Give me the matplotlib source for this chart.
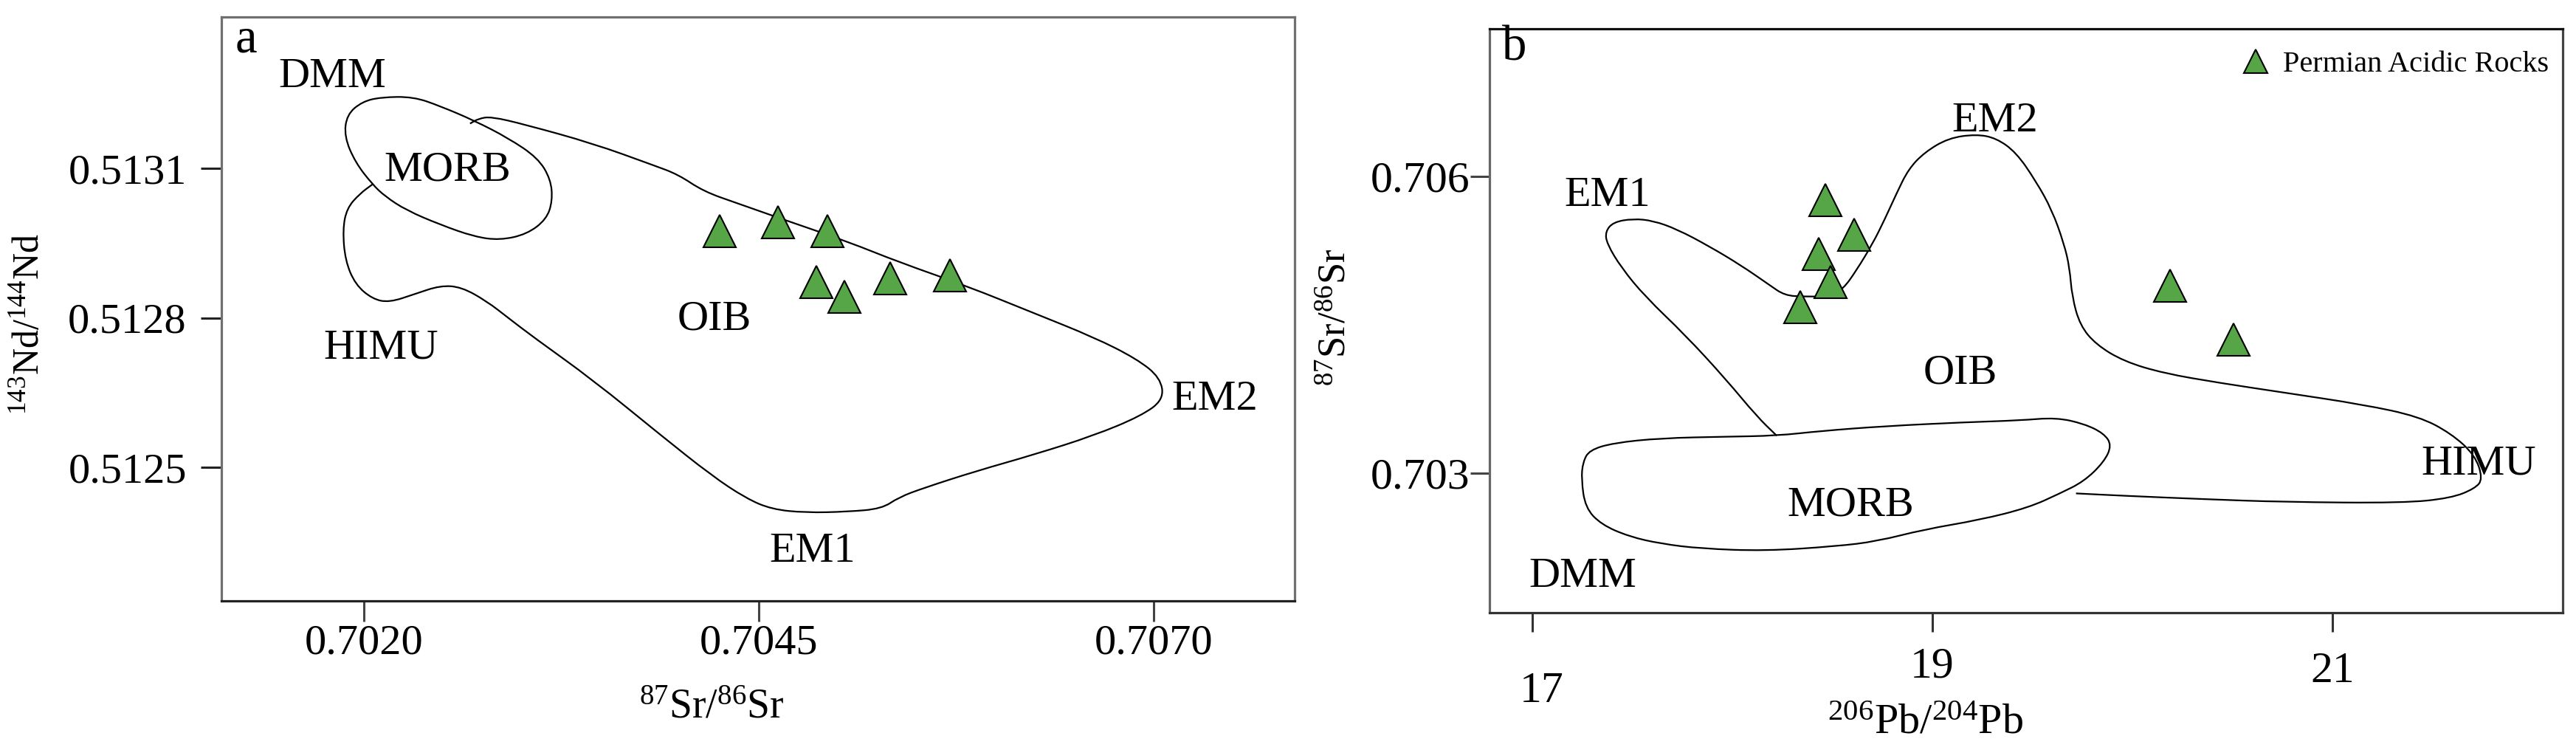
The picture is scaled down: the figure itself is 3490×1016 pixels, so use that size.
import numpy as np
import matplotlib
matplotlib.use("Agg")
import matplotlib.pyplot as plt
from matplotlib.lines import Line2D
from matplotlib.path import Path
from matplotlib.patches import PathPatch
from matplotlib.transforms import ScaledTranslation

plt.rcParams['font.family'] = ['Liberation Serif', 'DejaVu Serif']
plt.rcParams['mathtext.fontset'] = 'custom'
plt.rcParams['mathtext.rm'] = 'Liberation Serif'
plt.rcParams['mathtext.default'] = 'rm'

GREEN = '#56a546'

# ---------------- panel a : 87Sr/86Sr vs 143Nd/144Nd ----------------
a_sr = [0.704253, 0.704624, 0.704935, 0.704866, 0.705043, 0.705333, 0.705710]
a_nd = [0.512974, 0.512992, 0.512974, 0.512872, 0.512842, 0.512879, 0.512886]

# MORB field (closed)
a_morb_x = [0.702054, 0.701946, 0.701876, 0.701892, 0.701989, 0.702108, 0.702312,
            0.702484, 0.702699, 0.702914, 0.703102, 0.703183, 0.703194, 0.703156,
            0.703032, 0.702860, 0.702699, 0.702484, 0.702269, 0.702134, 0.702054]
a_morb_y = [0.513068, 0.513112, 0.513164, 0.513208, 0.513234, 0.513243, 0.513244,
            0.513225, 0.513196, 0.513161, 0.513121, 0.513078, 0.513035, 0.512998,
            0.512968, 0.512956, 0.512963, 0.512987, 0.513016, 0.513044, 0.513068]

# OIB / EM1 / EM2 / HIMU field (open, starts and ends on the MORB field)
a_oib_x = [0.702672, 0.702726, 0.702806, 0.703021, 0.703452, 0.703828, 0.703989,
           0.704150, 0.704365, 0.704688, 0.705064, 0.705387, 0.705817, 0.706247,
           0.706623, 0.706892, 0.707043, 0.707064, 0.706919, 0.706623, 0.706247,
           0.705871, 0.705548, 0.705387, 0.705279, 0.705064, 0.704796, 0.704580,
           0.704419, 0.704204, 0.703882, 0.703452, 0.703075, 0.702914, 0.702780,
           0.702618, 0.702484, 0.702323, 0.702161, 0.702054, 0.701946, 0.701882,
           0.701866, 0.701892, 0.701973, 0.702054]
a_oib_y = [0.513190, 0.513200, 0.513204, 0.513188, 0.513150, 0.513107, 0.513088,
           0.513054, 0.513030, 0.512994, 0.512953, 0.512912, 0.512864, 0.512809,
           0.512761, 0.512718, 0.512680, 0.512636, 0.512603, 0.512564, 0.512526,
           0.512492, 0.512459, 0.512440, 0.512417, 0.512411, 0.512409, 0.512416,
           0.512438, 0.512483, 0.512564, 0.512675, 0.512761, 0.512800, 0.512833,
           0.512862, 0.512865, 0.512848, 0.512831, 0.512838, 0.512867, 0.512915,
           0.512977, 0.513020, 0.513049, 0.513068]

a_labels = ['DMM', 'MORB', 'HIMU', 'OIB', 'EM2', 'EM1']
a_lab_x = [0.701801, 0.702527, 0.702108, 0.704220, 0.707387, 0.704839]
a_lab_y = [0.513284, 0.513097, 0.512739, 0.512797, 0.512636, 0.512332]

a_xticks = [0.7020, 0.7045, 0.7070]
a_yticks = [0.5125, 0.5128, 0.5131]

# ---------------- panel b : 206Pb/204Pb vs 87Sr/86Sr ----------------
b_pb = [18.466, 18.609, 18.430, 18.490, 18.338, 20.188, 20.507]
b_sr = [0.705762, 0.705408, 0.705219, 0.704932, 0.704680, 0.704893, 0.704350]

b_oib_x = [18.222, 18.123, 17.963, 17.764, 17.564, 17.445, 17.373, 17.365, 17.405,
           17.504, 17.604, 17.724, 17.883, 18.043, 18.182, 18.262, 18.362, 18.482,
           18.553, 18.621, 18.701, 18.761, 18.821, 18.880, 18.960, 19.080, 19.219,
           19.319, 19.419, 19.518, 19.598, 19.658, 19.686, 19.698, 19.738, 19.818,
           19.957, 20.157, 20.436, 20.755, 21.154, 21.433, 21.592, 21.712, 21.752,
           21.712, 21.592, 21.353, 20.755, 20.356, 19.957, 19.718]
b_oib_y = [0.703379, 0.703573, 0.703961, 0.704398, 0.704786, 0.705078, 0.705320,
           0.705442, 0.705539, 0.705573, 0.705553, 0.705466, 0.705296, 0.705102,
           0.704908, 0.704796, 0.704786, 0.704786, 0.704859, 0.705053, 0.705320,
           0.705563, 0.705830, 0.706073, 0.706243, 0.706388, 0.706427, 0.706388,
           0.706243, 0.705951, 0.705660, 0.705320, 0.705078, 0.704786, 0.704495,
           0.704301, 0.704131, 0.704010, 0.703913, 0.703816, 0.703694, 0.703573,
           0.703403, 0.703185, 0.702942, 0.702845, 0.702748, 0.702699, 0.702709,
           0.702738, 0.702772, 0.702796]

b_morb_x = [17.285, 17.405, 17.644, 17.963, 18.222, 18.442, 18.761, 19.160, 19.439,
            19.618, 19.758, 19.857, 19.897, 19.857, 19.758, 19.638, 19.479, 19.239,
            18.960, 18.721, 18.521, 18.163, 17.843, 17.644, 17.485, 17.345, 17.265,
            17.245, 17.253, 17.285]
b_morb_y = [0.703233, 0.703306, 0.703355, 0.703369, 0.703379, 0.703427, 0.703476,
            0.703515, 0.703534, 0.703563, 0.703500, 0.703403, 0.703282, 0.703112,
            0.702918, 0.702796, 0.702651, 0.702529, 0.702432, 0.702311, 0.702262,
            0.702214, 0.702238, 0.702287, 0.702359, 0.702481, 0.702651, 0.702942,
            0.703112, 0.703233]

b_labels = ['EM2', 'EM1', 'OIB', 'HIMU', 'MORB', 'DMM']
b_lab_x = [19.311, 17.377, 19.140, 21.732, 18.593, 17.252]
b_lab_y = [0.706558, 0.705806, 0.704010, 0.703097, 0.702675, 0.701955]

b_xticks = [17, 19, 21]
b_yticks = [0.703, 0.706]
b_xtick_shift = [(13, -27), (0, 6), (0, 0)]   # px shifts of the odd tick labels


def smooth_outline(ax, xs, ys, closed=False):
    # quadratic bezier through the midpoints, traced vertices act as control points
    p = np.column_stack([xs, ys])
    if closed:
        p = p[:-1]
        n = len(p)
        mids = (p + np.roll(p, -1, axis=0)) / 2
        verts = [mids[-1]]
        codes = [Path.MOVETO]
        for i in range(n):
            verts += [p[i], mids[i]]
            codes += [Path.CURVE3, Path.CURVE3]
    else:
        mids = (p[:-1] + p[1:]) / 2
        verts = [p[0], mids[0]]
        codes = [Path.MOVETO, Path.LINETO]
        for i in range(1, len(p) - 1):
            verts += [p[i], mids[i]]
            codes += [Path.CURVE3, Path.CURVE3]
        verts.append(p[-1])
        codes.append(Path.LINETO)
    ax.add_patch(PathPatch(Path(verts, codes), fill=False, edgecolor='k', lw=1.6))


W, H = 3491, 1016
fig = plt.figure(figsize=(W / 100, H / 100), dpi=100)
ax_a = fig.add_axes([300 / W, 1 - 814 / H, 1454 / W, 791 / H])
ax_b = fig.add_axes([2018 / W, 1 - 830 / H, 1454 / W, 791 / H])

# ---- panel a
smooth_outline(ax_a, a_morb_x, a_morb_y, closed=True)
smooth_outline(ax_a, a_oib_x, a_oib_y)
ax_a.plot(a_sr, a_nd, ls='none', marker='^', ms=31, mfc=GREEN, mec='k', mew=1.5)
for t, x, y in zip(a_labels, a_lab_x, a_lab_y):
    ax_a.text(x, y, t, fontsize=42, ha='center', va='center')
ax_a.text(0.023, 0.961, 'a', transform=ax_a.transAxes, fontsize=48, ha='center', va='center')
ax_a.set_xlim(0.701098, 0.707893)
ax_a.set_ylim(0.512232, 0.513404)
ax_a.set_xticks(a_xticks)
ax_a.set_xticklabels(['%.4f' % v for v in a_xticks])
ax_a.set_yticks(a_yticks)
ax_a.set_yticklabels(['%.4f' % v for v in a_yticks])
ax_a.tick_params(axis='x', direction='out', length=20, width=2.2, color='#444', labelsize=42, pad=3)
ax_a.tick_params(axis='y', direction='out', length=20, width=2.2, color='#222', labelsize=42, pad=14)
ax_a.set_xlabel(r'$^{87}$Sr/$^{86}$Sr', fontsize=40)
ax_a.xaxis.set_label_coords(0.457, -0.150)
ax_a.set_ylabel(r'$^{143}$Nd/$^{144}$Nd', fontsize=36, va='center')
ax_a.yaxis.set_label_coords(-0.179, 0.474)
for side, c in [('left', '#707070'), ('top', '#707070'), ('right', '#707070'), ('bottom', '#222222')]:
    ax_a.spines[side].set_color(c)
    ax_a.spines[side].set_linewidth(2.3)

# ---- panel b
smooth_outline(ax_b, b_oib_x, b_oib_y)
smooth_outline(ax_b, b_morb_x, b_morb_y, closed=True)
ax_b.plot(b_pb, b_sr, ls='none', marker='^', ms=31, mfc=GREEN, mec='k', mew=1.5)
for t, x, y in zip(b_labels, b_lab_x, b_lab_y):
    ax_b.text(x, y, t, fontsize=42, ha='center', va='center')
ax_b.text(0.023, 0.967, 'b', transform=ax_b.transAxes, fontsize=48, ha='center', va='center')
ax_b.set_xlim(16.786, 22.151)
ax_b.set_ylim(0.701590, 0.707493)
ax_b.set_xticks(b_xticks)
ax_b.set_xticklabels([str(v) for v in b_xticks])
ax_b.set_yticks(b_yticks)
ax_b.set_yticklabels(['%.3f' % v for v in b_yticks])
ax_b.tick_params(axis='x', direction='out', length=19, width=2.2, color='#333', labelsize=43, pad=19)
ax_b.tick_params(axis='y', direction='out', length=19, width=2.2, color='#444', labelsize=43, pad=0)
ax_b.set_xlabel(r'$^{206}$Pb/$^{204}$Pb', fontsize=42)
ax_b.xaxis.set_label_coords(0.406, -0.1555)
ax_b.set_ylabel(r'$^{87}$Sr/$^{86}$Sr', fontsize=38, va='center')
ax_b.yaxis.set_label_coords(-0.143, 0.506)
for side, c in [('left', '#666666'), ('top', '#111111'), ('right', '#444444'), ('bottom', '#333333')]:
    ax_b.spines[side].set_color(c)
    ax_b.spines[side].set_linewidth(2.3)

for lab, (dx, dy) in zip(ax_b.get_xticklabels(), b_xtick_shift):
    lab.set_transform(lab.get_transform() + ScaledTranslation(dx / 100, dy / 100, fig.dpi_scale_trans))

handle = Line2D([], [], ls='none', marker='^', ms=23, mfc=GREEN, mec='k', mew=1.5,
                label='Permian Acidic Rocks')
ax_b.legend(handles=[handle], loc='center right', bbox_to_anchor=(0.987, 0.939),
            frameon=False, fontsize=29, borderpad=0, borderaxespad=0,
            handlelength=1.0, handletextpad=0.43)

fig.savefig('out.png', dpi=100, facecolor='white')
